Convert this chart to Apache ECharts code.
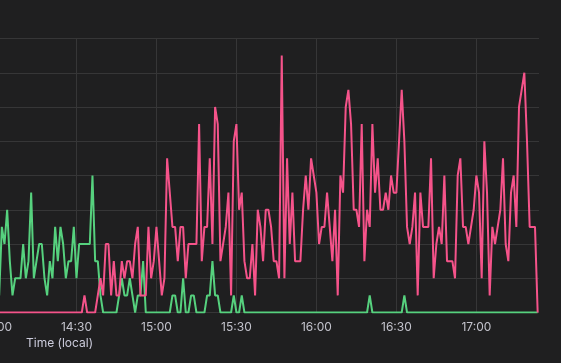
<!DOCTYPE html>
<html>
<head>
<meta charset="utf-8">
<script src="https://cdn.jsdelivr.net/npm/echarts@6/dist/echarts.min.js"></script>
<style>
html,body{margin:0;padding:0;background:#1f1f20;}
#c{width:561px;height:363px;}
</style>
</head>
<body>
<div id="c"></div>
<script>
// minutes after 14:00, one sample per minute
const startMinute = 0;
const stepMinutes = 1;
const tickLabels = ['14:00','14:30','15:00','15:30','16:00','16:30','17:00'];
const xAxisName = 'Time (local)';

const pinkValues = [
  0,0,0,0,0,0,0,0,0,0,
  0,0,0,0,0,0,0,0,0,0,
  0,0,0,0,0,0,0,0,0,0,
  0,0,0,1,0,0,0,0,1,2,
  1,4,4,1,3,1,1,3,2,3,
  3,2,4,5,1,1,1,5,2,3,
  5,3,1,2,9,7,5,5,3,5,
  5,2,4,4,4,4,11,3,5,5,
  9,4,12,11,3,4,5,7,1,10,
  11,6,7,3,2,2,4,1,6,5,
  3,6,6,5,3,3,2,15,2,9,
  4,7,3,3,3,6,8,6,9,8,
  7,4,5,5,7,5,3,6,1,8,
  7,12,13,11,6,6,5,11,3,6,
  5,11,7,9,6,6,7,6,8,7,
  7,10,13,10,5,4,5,7,1,7,
  5,5,5,9,2,4,5,4,8,3,
  3,3,2,8,9,5,5,4,5,6,
  8,7,2,10,7,1,5,4,5,6,
  9,4,3,7,8,5,12,13,14,10,
  5,5,5,0
];

const greenValues = [
  2,1,5,4,6,3,1,2,2,2,
  4,2,3,7,2,3,4,4,2,1,
  3,2,5,3,5,4,2,3,3,5,
  2,4,4,4,4,4,8,3,3,1,
  0,0,0,0,0,0,1,2,1,1,
  2,1,0,1,1,3,0,0,0,0,
  0,0,0,0,0,0,1,1,0,0,
  2,0,0,1,1,0,0,0,0,1,
  1,3,1,1,0,0,0,0,0,1,
  0,0,1,0,0,0,0,0,0,0,
  0,0,0,0,0,0,0,0,0,0,
  0,0,0,0,0,0,0,0,0,0,
  0,0,0,0,0,0,0,0,0,0,
  0,0,0,0,0,0,0,0,0,0,
  1,0,0,0,0,0,0,0,0,0,
  0,0,0,1,0,0,0,0,0,0,
  0,0,0,0,0,0,0,0,0,0,
  0,0,0,0,0,0,0,0,0,0,
  0,0,0,0,0,0,0,0,0,0,
  0,0,0,0,0,0,0,0,0,0,
  0,0,0,0
];

const toPairs = vals => vals.map((v, i) => [startMinute + i * stepMinutes, v]);

const chart = echarts.init(document.getElementById('c'), null, {renderer: 'canvas'});
const gridColor = '#363637';
chart.setOption({
  backgroundColor: '#1f1f20',
  animation: false,
  grid: {left: -3.5, right: 22, top: 38.5, bottom: 50.5, containLabel: false, outerBoundsMode: 'none'},
  xAxis: {
    type: 'value', min: 0, max: 203.5, interval: 30,
    axisLine: {show: false}, axisTick: {show: false},
    splitLine: {show: true, showMaxLine: false, lineStyle: {color: gridColor, width: 1}},
    axisLabel: {
      color: '#c3c3cc', fontSize: 12, fontFamily: 'Inter', margin: 9,
      showMaxLabel: false, hideOverlap: false,
      formatter: v => (v % 30 === 0 && tickLabels[v / 30]) ? tickLabels[v / 30] : ''
    }
  },
  yAxis: {
    type: 'value', min: 0, max: 16, interval: 2,
    axisLine: {show: false}, axisTick: {show: false}, axisLabel: {show: false},
    splitLine: {show: true, lineStyle: {color: gridColor, width: 1}}
  },
  graphic: [{
    type: 'text', left: 26, top: 337,
    style: {text: xAxisName, fill: '#ccccdc', font: '12px Inter'}
  }],
  series: [
    {name: 'green', type: 'line', data: toPairs(greenValues), showSymbol: false,
     lineStyle: {color: '#56d17e', width: 2}, itemStyle: {color: '#56d17e'}},
    {name: 'pink', type: 'line', data: toPairs(pinkValues), showSymbol: false,
     lineStyle: {color: '#f5538a', width: 2}, itemStyle: {color: '#f5538a'}}
  ]
});
</script>
</body>
</html>
